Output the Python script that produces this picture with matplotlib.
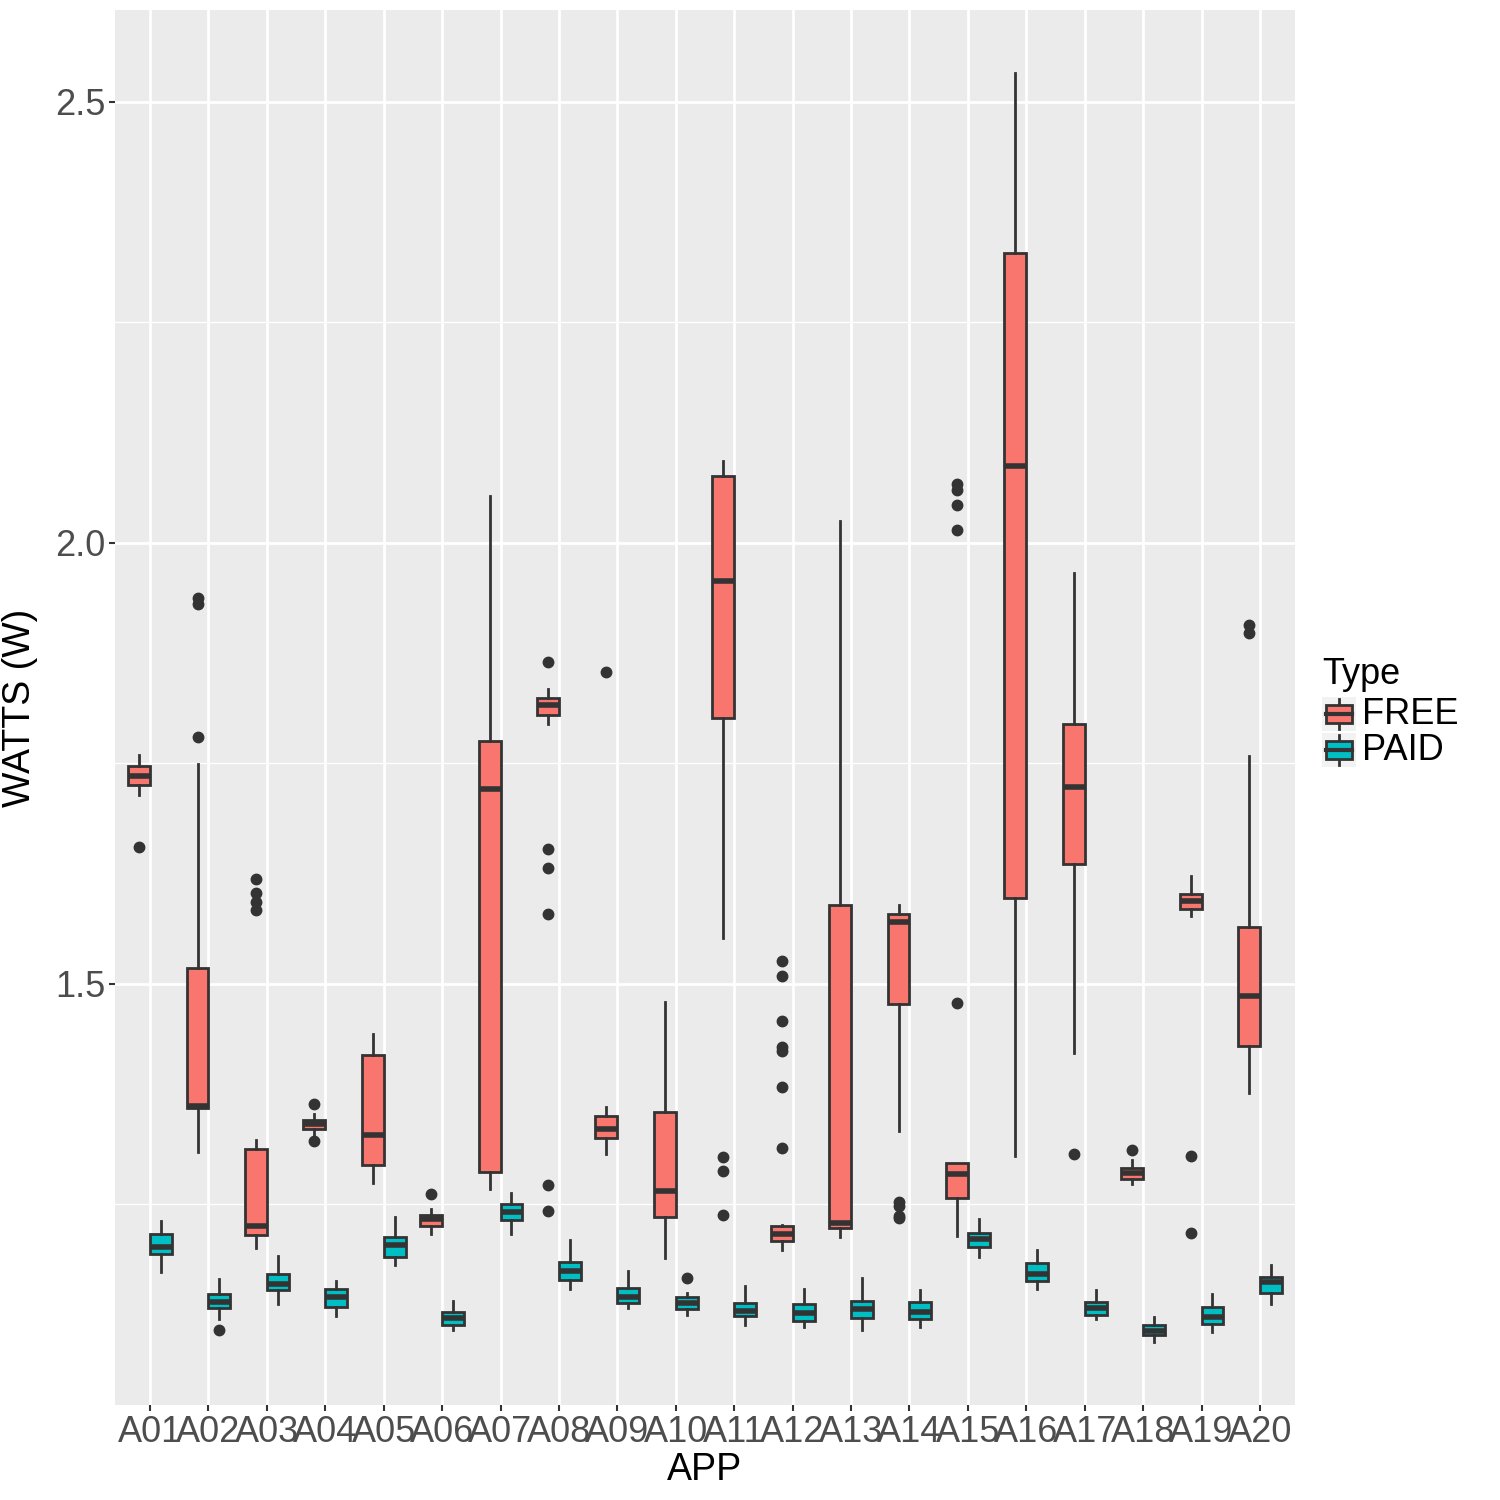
import matplotlib.pyplot as plt
import matplotlib.patches as mpatches
import numpy as np

plt.rcParams['font.family'] = ['Liberation Sans', 'DejaVu Sans']

# box stats: whisker low, q1, median, q3, whisker high
apps = ['A%02d' % i for i in range(1, 21)]

free_lo = [1.714, 1.309, 1.200, 1.328, 1.274, 1.216, 1.267, 1.794, 1.307, 1.189,
           1.552, 1.198, 1.212, 1.333, 1.214, 1.304, 1.421, 1.273, 1.576, 1.376]
free_q1 = [1.725, 1.359, 1.215, 1.335, 1.294, 1.225, 1.286, 1.805, 1.325, 1.235,
           1.801, 1.208, 1.223, 1.477, 1.257, 1.597, 1.636, 1.278, 1.584, 1.429]
free_med = [1.735, 1.361, 1.225, 1.341, 1.328, 1.233, 1.721, 1.816, 1.335, 1.265,
            1.957, 1.216, 1.228, 1.570, 1.284, 2.087, 1.723, 1.285, 1.593, 1.486]
free_q3 = [1.747, 1.518, 1.312, 1.345, 1.419, 1.238, 1.775, 1.824, 1.350, 1.354,
           2.075, 1.225, 1.589, 1.579, 1.296, 2.328, 1.794, 1.291, 1.601, 1.564]
free_hi = [1.759, 1.749, 1.322, 1.352, 1.443, 1.244, 2.053, 1.834, 1.360, 1.479,
           2.093, 1.226, 2.025, 1.589, 1.297, 2.532, 1.965, 1.300, 1.622, 1.758]
free_out = [[1.655], [1.937, 1.930, 1.779], [1.618, 1.603, 1.592, 1.583],
            [1.363, 1.321], [], [1.261], [],
            [1.865, 1.653, 1.631, 1.579, 1.271, 1.242], [1.853], [],
            [1.303, 1.287, 1.238],
            [1.525, 1.509, 1.458, 1.428, 1.423, 1.383, 1.313], [],
            [1.252, 1.248, 1.236, 1.234], [2.066, 2.060, 2.043, 2.014, 1.478],
            [], [1.307], [1.311], [1.304, 1.217], [1.907, 1.898]]

paid_lo = [1.173, 1.119, 1.136, 1.123, 1.181, 1.107, 1.216, 1.153, 1.132, 1.124,
           1.113, 1.110, 1.107, 1.110, 1.190, 1.153, 1.119, 1.094, 1.105, 1.137]
paid_q1 = [1.193, 1.132, 1.152, 1.133, 1.190, 1.113, 1.232, 1.164, 1.138, 1.131,
           1.123, 1.117, 1.121, 1.119, 1.201, 1.163, 1.124, 1.101, 1.114, 1.149]
paid_med = [1.201, 1.139, 1.159, 1.145, 1.204, 1.121, 1.241, 1.174, 1.145, 1.138,
            1.129, 1.126, 1.131, 1.127, 1.210, 1.171, 1.132, 1.106, 1.122, 1.162]
paid_q3 = [1.216, 1.148, 1.170, 1.154, 1.213, 1.127, 1.250, 1.184, 1.155, 1.144,
           1.138, 1.136, 1.140, 1.139, 1.217, 1.183, 1.139, 1.113, 1.133, 1.167]
paid_hi = [1.231, 1.165, 1.191, 1.163, 1.235, 1.140, 1.262, 1.209, 1.174, 1.149,
           1.157, 1.154, 1.166, 1.152, 1.233, 1.198, 1.152, 1.122, 1.148, 1.181]
paid_out = [[], [1.107], [], [], [], [], [], [], [], [1.166],
            [], [], [], [], [], [], [], [], [], []]

types = ['FREE', 'PAID']
colors = ['#F8766D', '#00BFC4']
edge = '#333333'


def make_stats(lo, q1, med, q3, hi, out):
    return [dict(whislo=a, q1=b, med=c, q3=d, whishi=e, fliers=f)
            for a, b, c, d, e, f in zip(lo, q1, med, q3, hi, out)]


stats = [make_stats(free_lo, free_q1, free_med, free_q3, free_hi, free_out),
         make_stats(paid_lo, paid_q1, paid_med, paid_q3, paid_hi, paid_out)]

fig = plt.figure(figsize=(15, 15), dpi=100)
ax = fig.add_axes([115 / 1500, 95 / 1500, 1180 / 1500, 1395 / 1500])
ax.set_facecolor('#EBEBEB')

x = np.arange(len(apps))
w = 0.375
for k, (st, col) in enumerate(zip(stats, colors)):
    pos = x + (k - 0.5) * w
    ax.bxp(st, positions=pos, widths=w, patch_artist=True, showcaps=False,
           boxprops=dict(facecolor=col, edgecolor=edge, linewidth=2.0),
           medianprops=dict(color=edge, linewidth=4.0, solid_capstyle='butt'),
           whiskerprops=dict(color=edge, linewidth=2.0),
           flierprops=dict(marker='o', markerfacecolor=edge, markeredgecolor=edge,
                           markersize=7.5, linestyle='none'),
           manage_ticks=False, zorder=3)

ax.set_xlim(-0.6, len(apps) - 0.4)
ax.set_ylim(1.022, 2.604)
ax.set_xticks(x)
ax.set_xticklabels(apps)
ax.set_yticks([1.5, 2.0, 2.5])
ax.set_yticklabels(['1.5', '2.0', '2.5'])
ax.set_yticks([1.25, 1.75, 2.25], minor=True)
ax.grid(True, which='major', color='white', linewidth=2.0, zorder=0)
ax.grid(True, which='minor', axis='y', color='white', linewidth=1.0, zorder=0)
ax.set_axisbelow(True)
for s in ax.spines.values():
    s.set_visible(False)
ax.tick_params(axis='both', which='major', labelsize=26, colors='#4D4D4D',
               length=4, width=1.5, pad=3)
ax.tick_params(axis='both', which='minor', length=0)
ax.tick_params(axis='both', which='major', color='#333333')
ax.set_xlabel('APP', fontsize=27, color='black', labelpad=2)
ax.set_ylabel('WATTS (W)', fontsize=27, color='black', labelpad=12)

# legend drawn by hand, ggplot style
lax = fig.add_axes([1320 / 1500, 1 - 769 / 1500, 40 / 1500, 74 / 1500])
lax.set_xlim(0, 40)
lax.set_ylim(74, 0)
lax.axis('off')
for k, col in enumerate(colors):
    y0 = 2 + k * 36
    lax.add_patch(mpatches.Rectangle((2, y0), 34, 34, facecolor='#F2F2F2',
                                     edgecolor='none'))
    lax.plot([19, 19], [y0 + 2, y0 + 32], color=edge, lw=2.0)
    lax.add_patch(mpatches.Rectangle((6, y0 + 8), 26, 18, facecolor=col,
                                     edgecolor=edge, lw=2.0, zorder=3))
    lax.plot([6, 32], [y0 + 17, y0 + 17], color=edge, lw=3, zorder=4)
    fig.text(1362 / 1500, 1 - (y0 + 695 + 17) / 1500, types[k], fontsize=26,
             va='center', ha='left')
fig.text(1322 / 1500, 1 - 675 / 1500, 'Type', fontsize=26, va='center', ha='left')

fig.savefig('out.png', dpi=100)
